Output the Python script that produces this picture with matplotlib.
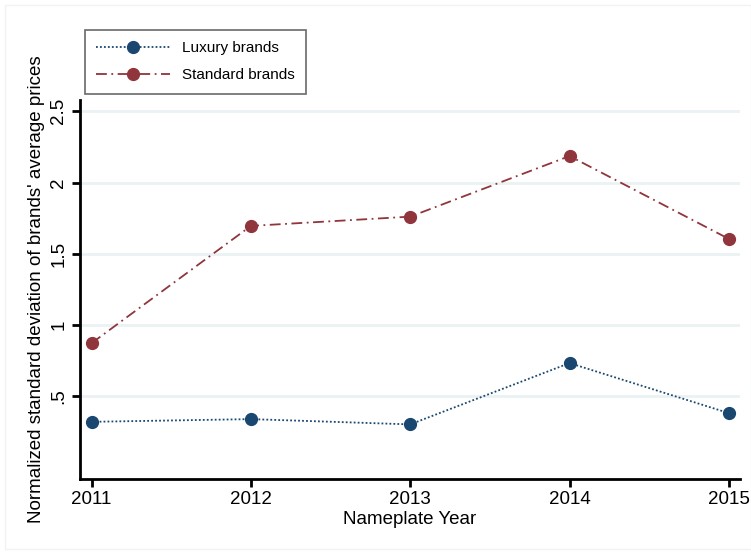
import numpy as np
import matplotlib.pyplot as plt
from matplotlib.patches import Rectangle

plt.rcParams['font.family'] = ['Liberation Sans', 'DejaVu Sans']

years = [2011, 2012, 2013, 2014, 2015]
luxury = [0.322, 0.341, 0.304, 0.734, 0.383]
standard = [0.874, 1.696, 1.761, 2.186, 1.605]
yticks = [0.5, 1, 1.5, 2, 2.5]
ytick_labels = ['.5', '1', '1.5', '2', '2.5']

navy = '#1a476f'
maroon = '#90353b'
grid_col = '#eaf2f3'

fig = plt.figure(figsize=(7.51, 5.52), dpi=100)
# faint outer frame
fig.patches.append(Rectangle((5/751, 0.005), 1 - 5/751, 1 - 5/552 - 0.005,
                             transform=fig.transFigure, fill=False,
                             edgecolor='#f2f2f2', linewidth=1))
ax = fig.add_axes([80/751, 1 - 479/552, 660/751, 379/552])

ax.plot(years, luxury, color=navy, linestyle=(0, (1, 1.2)), linewidth=1.3,
        marker='o', markersize=8.5, label='Luxury brands')
ax.plot(years, standard, color=maroon, linestyle=(0, (6, 2.5, 1, 2.5)), linewidth=1.3,
        marker='o', markersize=8.5, label='Standard brands')

ax.set_xlim(2010.927, 2015.07)
ax.set_ylim(-0.079, 2.579)
ax.set_xticks(years)
ax.set_yticks(yticks)
ax.set_yticklabels(ytick_labels, rotation=90, va='center')
ax.grid(axis='y', color=grid_col, linewidth=2)
ax.set_axisbelow(True)

for s in ['top', 'right']:
    ax.spines[s].set_visible(False)
for s in ['left', 'bottom']:
    ax.spines[s].set_linewidth(2)
ax.tick_params(axis='both', direction='out', length=6, width=2, labelsize=13.5, pad=3)

ax.set_xlabel('Nameplate Year', fontsize=13.5, labelpad=2)
ax.set_ylabel("Normalized standard deviation of brands' average prices", fontsize=13.5, labelpad=4)

leg = fig.legend(loc='upper left', bbox_to_anchor=(85/751, 1 - 30/552), fontsize=11,
                 frameon=True, fancybox=False, edgecolor='#444444', handlelength=4.8,
                 borderpad=0.75, labelspacing=0.85, handletextpad=0.8, borderaxespad=0)
leg.get_frame().set_linewidth(1.2)

fig.savefig('out.png', dpi=100)
